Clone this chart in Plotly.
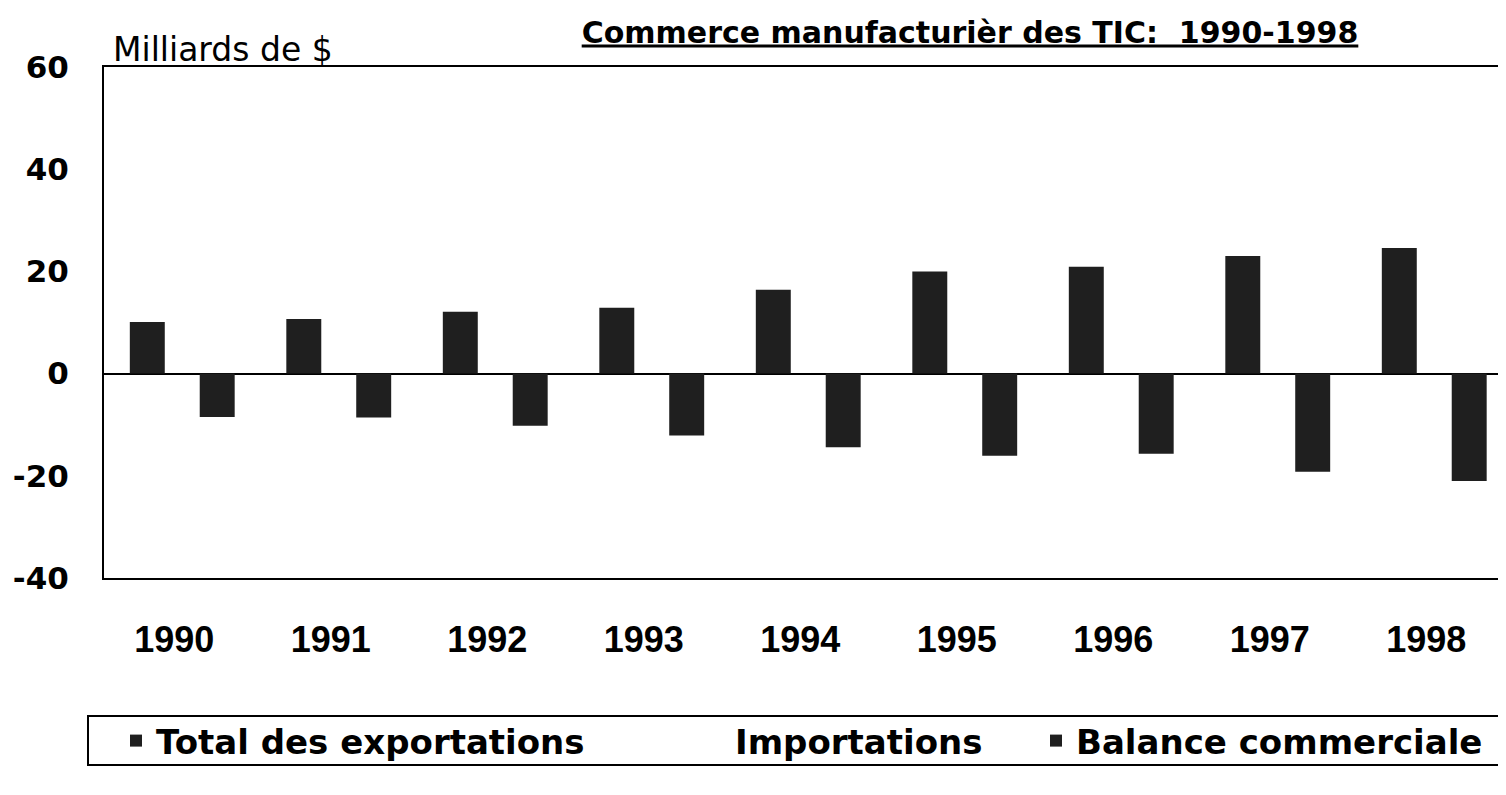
import plotly.graph_objects as go

years = ["1990", "1991", "1992", "1993", "1994", "1995", "1996", "1997", "1998"]
exportations = [10.1, 10.7, 12.1, 12.9, 16.4, 20.0, 20.9, 23.0, 24.6]
importations = [18.6, 19.3, 22.3, 25.0, 30.8, 36.1, 36.6, 42.2, 45.6]
balance = [-8.5, -8.6, -10.2, -12.1, -14.4, -16.1, -15.7, -19.2, -21.0]

y_ticks = [-40, -20, 0, 20, 40, 60]
y_tick_text = ["-40", "-20", "0", "20", "40", "60"]

TXT = "DejaVu Sans"
NUM = "Liberation Sans, Arial"
BAR = "#1f1f1f"

fig = go.Figure()
fig.add_trace(go.Bar(x=years, y=exportations, name="Total des exportations",
                     marker=dict(color=BAR, line=dict(width=0)), legend="legend"))
fig.add_trace(go.Bar(x=years, y=importations, name="Importations",
                     marker=dict(color="rgba(0,0,0,0)", line=dict(width=0)), legend="legend2"))
fig.add_trace(go.Bar(x=years, y=balance, name="Balance commerciale",
                     marker=dict(color=BAR, line=dict(width=0)), legend="legend3"))

OFF = 8  # page body margin
W, H = 1506 - OFF, 795 - OFF
L, R, T = 104 - OFF, 0, 67 - OFF
B = H - (578 - OFF)
pw, ph = W - L - R, H - T - B

def px_x(p):
    return (p - OFF - L) / pw

def px_y(p):
    return (H - B - (p - OFF)) / ph

leg_common = dict(orientation="h", yanchor="middle", y=px_y(741), xanchor="left",
                  bgcolor="rgba(0,0,0,0)", borderwidth=0,
                  font=dict(family=TXT, size=34, color="black", weight="bold"))

fig.update_layout(
    width=W, height=H,
    margin=dict(l=L, r=R, t=T, b=B, autoexpand=False),
    paper_bgcolor="white", plot_bgcolor="white",
    barmode="group", bargap=0.33, bargroupgap=0,
    showlegend=True,
    title=dict(text="Commerce manufacturièr des TIC:\u00a0\u00a01990-1998",
               xref="container", x=(970 - OFF) / W, xanchor="center",
               yref="container", y=1 - (32 - OFF) / H, yanchor="middle",
               font=dict(family=TXT, size=30, color="black", weight="bold", lineposition="under")),
    legend=dict(x=px_x(116), **leg_common),
    legend2=dict(x=px_x(695), **leg_common),
    legend3=dict(x=px_x(1036), **leg_common),
    xaxis=dict(range=[-0.5, pw / 156.5 - 0.5], showline=True, linecolor="black", linewidth=2,
               mirror=True, ticks="", showgrid=False, zeroline=False, automargin=False,
               tickfont=dict(family=NUM, size=36, color="black", weight="bold"),
               ticklabelstandoff=29, ticklabelshift=-8),
    yaxis=dict(range=[-40, 60], tickvals=y_ticks, ticktext=y_tick_text, showline=True,
               linecolor="black", linewidth=2, automargin=False,
               ticks="", showgrid=False, zeroline=True, zerolinecolor="black", zerolinewidth=2,
               tickfont=dict(family=TXT, size=31, color="black", weight="bold"),
               ticklabelstandoff=27),
    annotations=[dict(text="Milliards de $", xref="paper", yref="paper", x=px_x(111), y=1,
                      xanchor="left", yanchor="bottom", yshift=-4, showarrow=False,
                      font=dict(family=TXT, size=33, color="black"))],
    shapes=[dict(type="rect", xref="paper", yref="paper", x0=px_x(88), x1=1.02,
                 y0=px_y(765), y1=px_y(716), line=dict(color="black", width=2),
                 fillcolor="rgba(0,0,0,0)")],
)

fig.write_html("out.html")
